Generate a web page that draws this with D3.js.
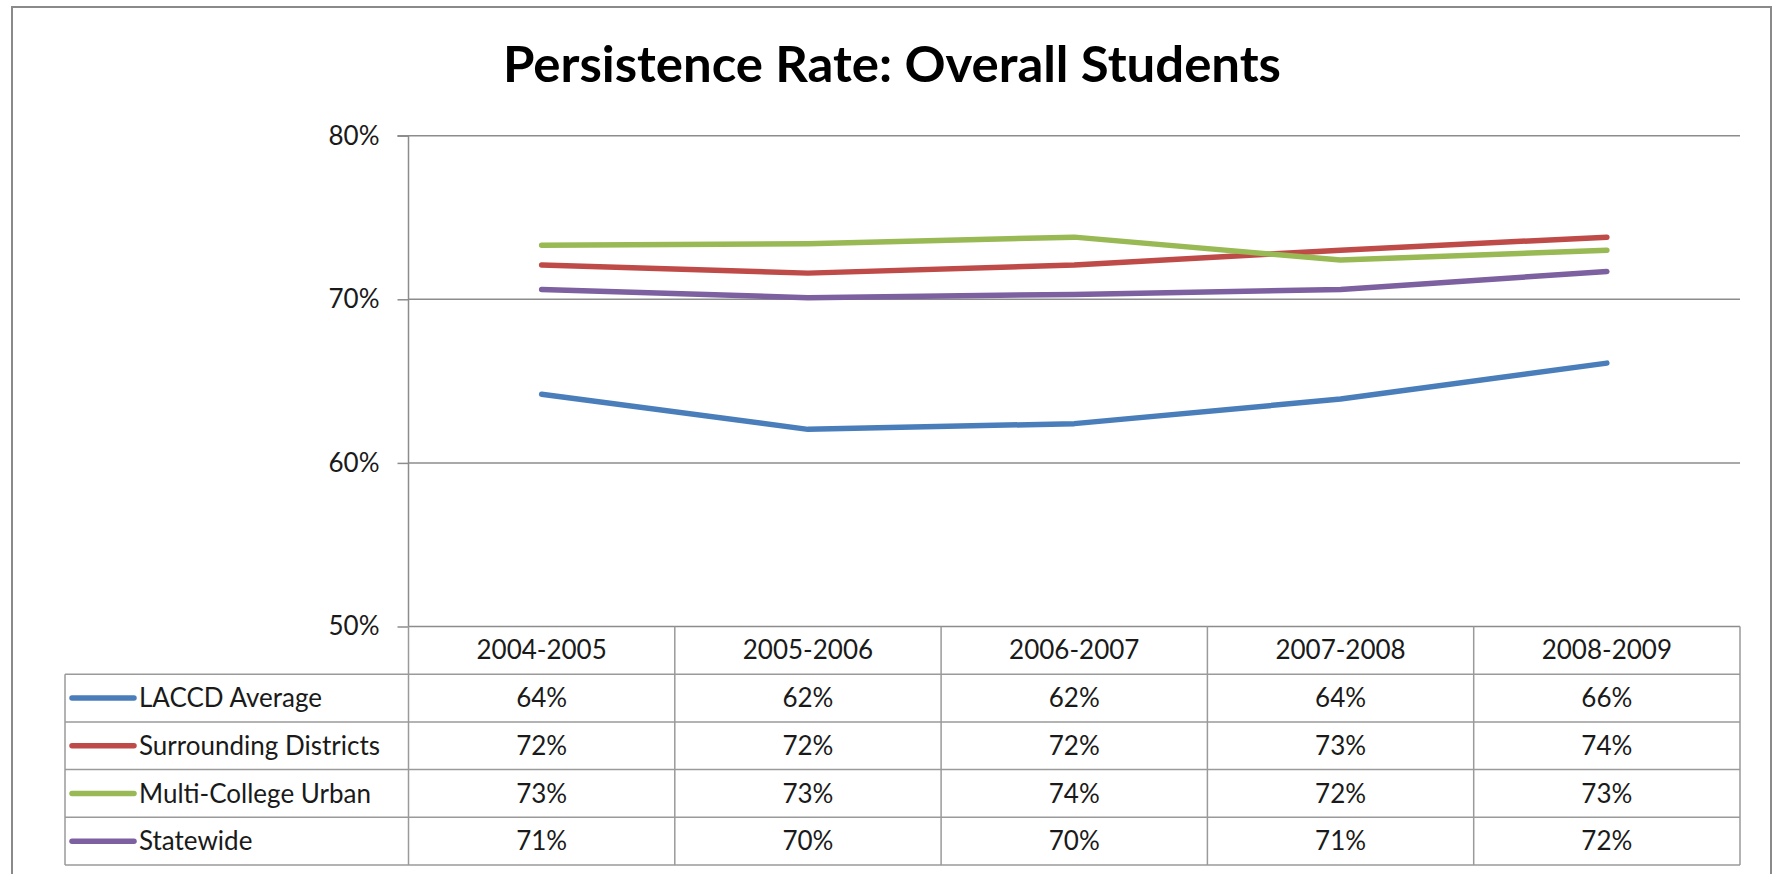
<!DOCTYPE html>
<html>
<head>
<meta charset="utf-8">
<script src="https://cdn.jsdelivr.net/npm/d3@7"></script>
<style>
  html, body { margin: 0; padding: 0; background: #fff; }
  svg { display: block; }
  text { font-family: Lato, "Open Sans", sans-serif; }
</style>
</head>
<body>
<svg id="chart" width="1773" height="874"></svg>
<script>
// ---- data ----
const title = "Persistence Rate: Overall Students";
const categories = ["2004-2005", "2005-2006", "2006-2007", "2007-2008", "2008-2009"];
const seriesNames = ["LACCD Average", "Surrounding Districts", "Multi-College Urban", "Statewide"];
const laccdAverage = [0.642, 0.6205, 0.624, 0.639, 0.661];
const surroundingDistricts = [0.721, 0.716, 0.721, 0.730, 0.738];
const multiCollegeUrban = [0.733, 0.734, 0.738, 0.724, 0.730];
const statewide = [0.706, 0.701, 0.703, 0.706, 0.717];
const yTicks = [0.5, 0.6, 0.7, 0.8];

// ---- styles ----
const seriesColors = ["#4A7EBB", "#BE4B48", "#98B954", "#7D60A0"];
const gridColor = "#8c8c8c";
const tableColor = "#9a9a9a";

const seriesValues = [laccdAverage, surroundingDistricts, multiCollegeUrban, statewide];
const series = seriesNames.map((name, i) => ({ name, color: seriesColors[i], values: seriesValues[i] }));

const svg = d3.select("#chart");

// outer frame
svg.append("rect")
  .attr("x", 12).attr("y", 7).attr("width", 1759).attr("height", 900)
  .attr("fill", "#fff").attr("stroke", "#8a8a8a").attr("stroke-width", 2);

// title
svg.append("text")
  .attr("x", 892).attr("y", 82)
  .attr("text-anchor", "middle")
  .attr("font-size", 49).attr("font-weight", 700).attr("fill", "#000")
  .attr("textLength", 778).attr("lengthAdjust", "spacingAndGlyphs")
  .text(title);

// scales
const plotLeft = 408.5, plotRight = 1740;
const x = d3.scaleBand().domain(categories).range([plotLeft, plotRight]);
const y = d3.scaleLinear().domain([0.5, 0.8]).range([626.5, 135.7]);
const rows = d3.scaleBand().domain(["header", ...seriesNames]).range([626.5, 865]);
const legendLeft = 65;

// gridlines
svg.append("g").selectAll("line").data(yTicks).join("line")
  .attr("x1", plotLeft).attr("x2", plotRight)
  .attr("y1", d => y(d)).attr("y2", d => y(d))
  .attr("stroke", gridColor).attr("stroke-width", 1.5);

// y axis
const yAxis = svg.append("g")
  .attr("transform", `translate(${plotLeft},0)`)
  .call(d3.axisLeft(y).tickValues(yTicks).tickFormat(d3.format(".0%")).tickSize(11).tickPadding(18));
yAxis.select(".domain").attr("stroke", gridColor).attr("stroke-width", 1.5)
  .attr("d", `M-11,${y(0.8)}H0V${y(0.5)}`);
yAxis.selectAll(".tick line").attr("stroke", gridColor).attr("stroke-width", 1.5);
yAxis.selectAll(".tick text")
  .attr("font-family", "Lato, sans-serif").attr("font-size", 26).attr("fill", "#1a1a1a");

// data table grid
const tg = svg.append("g").attr("stroke", tableColor).attr("stroke-width", 1.5);
// vertical lines for category columns
const colEdges = categories.map(c => x(c)).concat([plotRight]);
tg.selectAll("line.v").data(colEdges).join("line").attr("class", "v")
  .attr("x1", d => d).attr("x2", d => d)
  .attr("y1", rows("header")).attr("y2", 865);
// legend column left edge
tg.append("line").attr("x1", legendLeft).attr("x2", legendLeft)
  .attr("y1", rows(seriesNames[0])).attr("y2", 865);
// horizontal lines
tg.selectAll("line.h").data(seriesNames.map(n => rows(n)).concat([865])).join("line").attr("class", "h")
  .attr("x1", legendLeft).attr("x2", plotRight)
  .attr("y1", d => d).attr("y2", d => d);

// header labels
svg.append("g").selectAll("text").data(categories).join("text")
  .attr("x", d => x(d) + x.bandwidth() / 2)
  .attr("y", rows("header") + rows.bandwidth() / 2)
  .attr("dy", "0.35em")
  .attr("text-anchor", "middle")
  .attr("font-size", 26).attr("fill", "#1a1a1a")
  .text(d => d);

// rows: legend + values
const fmt = d3.format(".0%");
const rowG = svg.append("g").selectAll("g").data(series).join("g")
  .attr("transform", d => `translate(0,${rows(d.name) + rows.bandwidth() / 2})`);
rowG.append("line")
  .attr("x1", 72).attr("x2", 134).attr("y1", 0).attr("y2", 0)
  .attr("stroke", d => d.color).attr("stroke-width", 5.5).attr("stroke-linecap", "round");
rowG.append("text")
  .attr("x", 139).attr("dy", "0.35em")
  .attr("font-size", 26).attr("fill", "#1a1a1a")
  .text(d => d.name);
rowG.selectAll("text.val").data(d => d.values).join("text").attr("class", "val")
  .attr("x", (v, i) => x(categories[i]) + x.bandwidth() / 2)
  .attr("dy", "0.35em")
  .attr("text-anchor", "middle")
  .attr("font-size", 26).attr("fill", "#1a1a1a")
  .text(v => fmt(v));

// lines
const line = d3.line()
  .x((v, i) => x(categories[i]) + x.bandwidth() / 2)
  .y(v => y(v));
svg.append("g").selectAll("path").data(series).join("path")
  .attr("d", d => line(d.values))
  .attr("fill", "none")
  .attr("stroke", d => d.color)
  .attr("stroke-width", 5.5)
  .attr("stroke-linecap", "round")
  .attr("stroke-linejoin", "round");
</script>
</body>
</html>
